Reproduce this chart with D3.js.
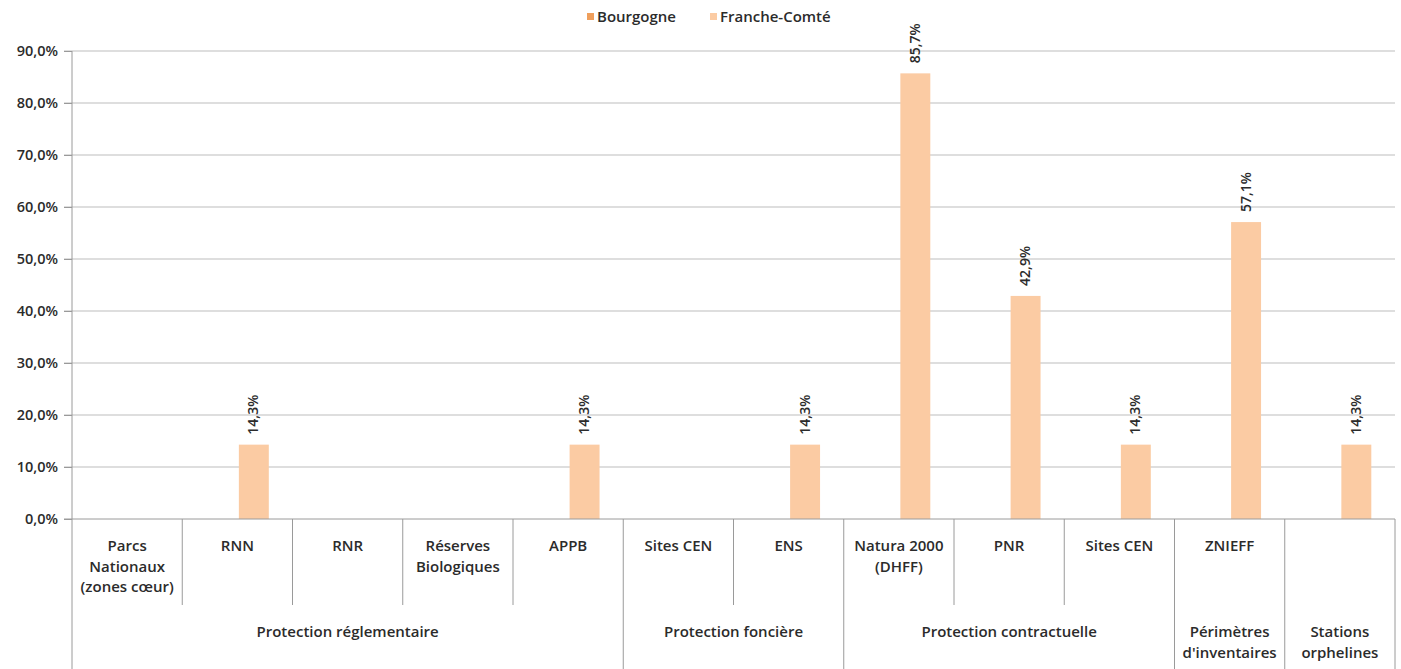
<html>
<head>
  <meta charset="utf-8">
  <title>Bourgogne / Franche-Comté</title>
  <script src="https://cdn.jsdelivr.net/npm/d3@7"></script>
  <style>
    body {
      margin: 0;
      background: #fff;
      font-family: 'Open Sans', 'DejaVu Sans', sans-serif;
    }
    text {
      fill: #2b2b2b;
    }
  </style>
</head>
<body>
  <div id="chart"></div>
<script>
  // data
  const categories = [
    ["Parcs", "Nationaux", "(zones cœur)"],
    ["RNN"],
    ["RNR"],
    ["Réserves", "Biologiques"],
    ["APPB"],
    ["Sites CEN"],
    ["ENS"],
    ["Natura 2000", "(DHFF)"],
    ["PNR"],
    ["Sites CEN"],
    ["ZNIEFF"],
    [""]
  ]
  const groups = [
    ["Protection réglementaire"],
    ["Protection foncière"],
    ["Protection contractuelle"],
    ["Périmètres", "d'inventaires"],
    ["Stations", "orphelines"]
  ]
  const groupSizes = [5, 2, 3, 1, 1]
  const seriesNames = ["Bourgogne", "Franche-Comté"]
  const bourgogne = [0, 0, 0, 0, 0, 0, 0, 0, 0, 0, 0, 0]
  const francheComte = [0, 0.143, 0, 0, 0.143, 0, 0.143, 0.857, 0.429, 0.143, 0.571, 0.143]
  const yTicks = [0, 0.1, 0.2, 0.3, 0.4, 0.5, 0.6, 0.7, 0.8, 0.9]
  const colors = ["#ef9f5c", "#fbcba3"]

  const W = 1401
  const H = 669
  const plotLeft = 72
  const plotRight = 1395
  const plotTop = 51
  const zero = 519

  const fr = d3.formatLocale({ decimal: ",", thousands: " ", grouping: [3], currency: ["", " €"] })
  const pct = fr.format(".1%")

  const svg = d3.select("#chart").append("svg")
    .attr("width", W)
    .attr("height", H)
    .style("display", "block")

  const idx = categories.map((_, i) => i)
  const x = d3.scaleBand().domain(idx).range([plotLeft, plotRight])
  const xs = d3.scaleBand().domain(seriesNames).range([0, x.bandwidth()])
    .paddingInner(0.09).paddingOuter(0.72)
  const y = d3.scaleLinear().domain([0, 0.9]).range([zero, plotTop])

  //gridlines
  svg.append("g").selectAll("line").data(yTicks.slice(1)).join("line")
    .attr("x1", plotLeft - 8).attr("x2", plotRight)
    .attr("y1", d => y(d)).attr("y2", d => y(d))
    .attr("stroke", "#bdbdbd").attr("stroke-width", 1)

  //y axis
  const yAxis = svg.append("g")
    .attr("transform", `translate(${plotLeft},0)`)
    .call(d3.axisLeft(y).tickValues(yTicks).tickFormat(pct).tickSize(8).tickSizeOuter(0).tickPadding(6))
  yAxis.select(".domain").remove()
  yAxis.selectAll(".tick line").attr("stroke", "#9a9a9a")
  yAxis.selectAll("text")
    .style("font-family", "'Open Sans', sans-serif")
    .style("font-size", "14.5px")
    .style("font-weight", 600)
    .attr("fill", "#2b2b2b")

  // vertical axis line
  svg.append("line")
    .attr("x1", plotLeft).attr("x2", plotLeft).attr("y1", plotTop).attr("y2", H)
    .attr("stroke", "#9a9a9a")

  //bars
  const series = [bourgogne, francheComte]
  series.forEach((vals, s) => {
    svg.append("g").selectAll("rect").data(vals).join("rect")
      .attr("x", (d, i) => x(i) + xs(seriesNames[s]))
      .attr("width", xs.bandwidth())
      .attr("y", d => y(d))
      .attr("height", d => zero - y(d))
      .attr("fill", colors[s])
  })

  //bar labels
  svg.append("g").selectAll("text").data(francheComte.map((v, i) => [v, i]).filter(d => d[0] > 0)).join("text")
    .attr("transform", d => `translate(${x(d[1]) + xs("Franche-Comté") + xs.bandwidth() / 2 + 4.5},${y(d[0]) - 10}) rotate(-90)`)
    .attr("text-anchor", "start")
    .style("font-size", "14px")
    .style("font-weight", 600)
    .text(d => pct(d[0]))

  // zero line
  svg.append("line")
    .attr("x1", plotLeft - 8).attr("x2", plotRight).attr("y1", zero).attr("y2", zero)
    .attr("stroke", "#9a9a9a")

  //category dividers
  let bounds = [0]
  groupSizes.forEach(n => bounds.push(bounds[bounds.length - 1] + n))
  const innerDiv = idx.slice(1).filter(i => !bounds.includes(i))
  svg.append("g").selectAll("line").data(innerDiv).join("line")
    .attr("x1", d => x(d)).attr("x2", d => x(d))
    .attr("y1", zero).attr("y2", 605)
    .attr("stroke", "#9a9a9a")
  svg.append("g").selectAll("line").data(bounds.slice(1)).join("line")
    .attr("x1", d => d < idx.length ? x(d) : plotRight).attr("x2", d => d < idx.length ? x(d) : plotRight)
    .attr("y1", zero).attr("y2", H)
    .attr("stroke", "#9a9a9a")

  //category labels
  const catG = svg.append("g").selectAll("text").data(categories).join("text")
    .attr("text-anchor", "middle")
    .style("font-size", "15px")
    .style("font-weight", 600)
  catG.selectAll("tspan").data((d, i) => d.map(t => [t, i])).join("tspan")
    .attr("x", d => x(d[1]) + x.bandwidth() / 2)
    .attr("y", (d, j) => 551 + j * 20.5)
    .text(d => d[0])

  //group labels
  const groupG = svg.append("g").selectAll("text").data(groups).join("text")
    .attr("text-anchor", "middle")
    .style("font-size", "15px")
    .style("font-weight", 600)
  groupG.selectAll("tspan").data((d, g) => {
    const a = bounds[g]
    const b = bounds[g + 1]
    const cx = (x(a) + (b < idx.length ? x(b) : plotRight)) / 2
    return d.map(t => [t, cx])
  }).join("tspan")
    .attr("x", d => d[1])
    .attr("y", (d, j) => 637 + j * 21)
    .text(d => d[0])

  //legend
  const legend = svg.append("g").attr("transform", "translate(587,17)")
  const lx = [0, 123]
  seriesNames.forEach((name, s) => {
    const lg = legend.append("g").attr("transform", `translate(${lx[s]},0)`)
    lg.append("rect").attr("x", 0).attr("y", -4).attr("width", 7).attr("height", 7).attr("fill", colors[s])
    lg.append("text").attr("x", 10).attr("y", 0).attr("dy", "0.35em")
      .style("font-size", "15px").style("font-weight", 600).text(name)
  })
</script>
</body>
</html>
